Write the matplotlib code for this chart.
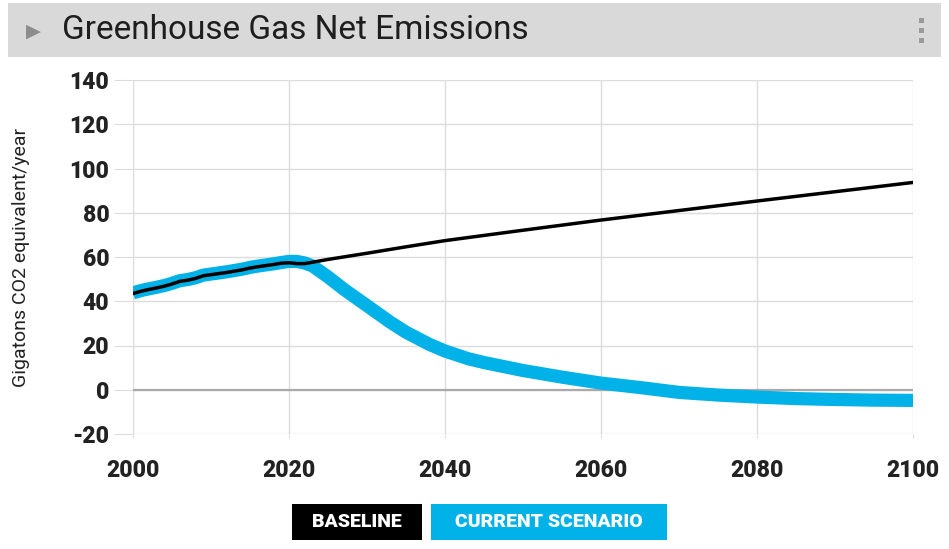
import matplotlib
matplotlib.use("Agg")
import matplotlib.pyplot as plt
from matplotlib.patches import Rectangle

plt.rcParams['font.family'] = ['Roboto', 'DejaVu Sans']
plt.rcParams['axes.unicode_minus'] = False

# Baseline emissions (Gt CO2e/year)
baseline_years = [2000, 2001, 2002, 2003, 2004, 2005, 2006, 2007, 2008, 2009,
                  2010, 2011, 2012, 2013, 2014, 2015, 2016, 2017, 2018, 2019,
                  2020, 2021, 2022, 2025, 2030, 2035, 2040, 2050, 2060, 2070,
                  2080, 2090, 2100]
baseline_vals = [43.5, 44.5, 45.3, 46.0, 46.8, 47.8, 49.0, 49.5, 50.3, 51.5,
                 52.0, 52.5, 53.0, 53.6, 54.2, 55.0, 55.6, 56.1, 56.6, 57.2,
                 57.4, 57.0, 57.0, 58.9, 61.7, 64.6, 67.4, 72.1, 76.7, 81.0,
                 85.3, 89.5, 93.7]

# Current scenario emissions
scenario_years = [2000, 2001, 2002, 2003, 2004, 2005, 2006, 2007, 2008, 2009,
                  2010, 2011, 2012, 2013, 2014, 2015, 2016, 2017, 2018, 2019,
                  2020, 2021, 2022, 2023, 2025, 2027, 2030, 2033, 2035, 2038,
                  2040, 2043, 2045, 2050, 2055, 2060, 2065, 2070, 2075, 2080,
                  2085, 2090, 2095, 2100]
scenario_vals = [43.8, 44.8, 45.6, 46.3, 47.1, 48.1, 49.3, 49.8, 50.6, 51.8,
                 52.3, 52.8, 53.3, 53.9, 54.5, 55.3, 55.9, 56.4, 56.9, 57.5,
                 58.0, 58.0, 57.3, 56.0, 51.0, 45.5, 38.0, 30.5, 26.0, 20.5,
                 17.5, 14.0, 12.3, 8.7, 5.7, 3.0, 1.0, -1.2, -2.4, -3.3,
                 -4.0, -4.4, -4.7, -4.8]

x_ticks = [2000, 2020, 2040, 2060, 2080, 2100]
y_ticks = [-20, 0, 20, 40, 60, 80, 100, 120, 140]

title = "Greenhouse Gas Net Emissions"
y_label = "Gigatons CO2 equivalent/year"
legend_labels = ["BASELINE", "CURRENT SCENARIO"]

BLUE = '#00b2e8'
GRID = '#dcdcdc'

fig = plt.figure(figsize=(9.49, 5.49), dpi=100)
fig.patch.set_facecolor('white')

# header bar
fig.patches.append(Rectangle((8 / 949, 1 - 57 / 549), 933 / 949, 54 / 549,
                             transform=fig.transFigure, facecolor='#d9d9d9',
                             edgecolor='none'))
fig.text(26 / 949, 1 - 31 / 549, "\u25B6", fontsize=14, color='#8c8c8c',
         va='center', ha='left', family=['DejaVu Sans'])
fig.text(62 / 949, 1 - 30 / 549, title, fontsize=24, color='#1e1e1e',
         va='center', ha='left')
for dy in (20, 30, 40):
    fig.patches.append(Rectangle((919 / 949, 1 - (dy + 3) / 549), 5 / 949, 5 / 549,
                                 transform=fig.transFigure, facecolor='#9a9a9a',
                                 edgecolor='none'))

ax = fig.add_axes([133 / 949, 1 - 434 / 549, 780 / 949, 354 / 549])

ax.plot(scenario_years, scenario_vals, color=BLUE, linewidth=9.5,
        solid_capstyle='butt', solid_joinstyle='round', zorder=3)
ax.plot(baseline_years, baseline_vals, color='black', linewidth=2.5,
        solid_joinstyle='round', zorder=4)

ax.set_xlim(2000, 2100)
ax.set_ylim(-20, 140)
ax.set_xticks(x_ticks)
ax.set_yticks(y_ticks)
ax.grid(True, color=GRID, linewidth=1)
ax.axhline(0, color='#aaaaaa', linewidth=1.6, zorder=2)
for s in ax.spines.values():
    s.set_visible(False)

ax.tick_params(axis='y', length=14, color=GRID, pad=3, labelsize=16.5,
               labelcolor='#222222')
ax.tick_params(axis='x', length=3, color=GRID, pad=15, labelsize=16.5,
               labelcolor='#222222')
for lbl in ax.get_xticklabels() + ax.get_yticklabels():
    lbl.set_fontweight('black')

ax.set_ylabel(y_label, fontsize=14, color='#222222')
ax.yaxis.set_label_coords(-0.132, 0.5)

# legend chips below the plot
chips = [(292, 130, 'black'), (431, 236, BLUE)]
for (x0, w, col), text in zip(chips, legend_labels):
    fig.patches.append(Rectangle((x0 / 949, 1 - 540 / 549), w / 949, 36 / 549,
                                 transform=fig.transFigure, facecolor=col,
                                 edgecolor='none'))
    fig.text((x0 + w / 2) / 949, 1 - 522 / 549, text, fontsize=14,
             fontweight='black', color='white', ha='center', va='center')

fig.savefig('out.png', dpi=100)
